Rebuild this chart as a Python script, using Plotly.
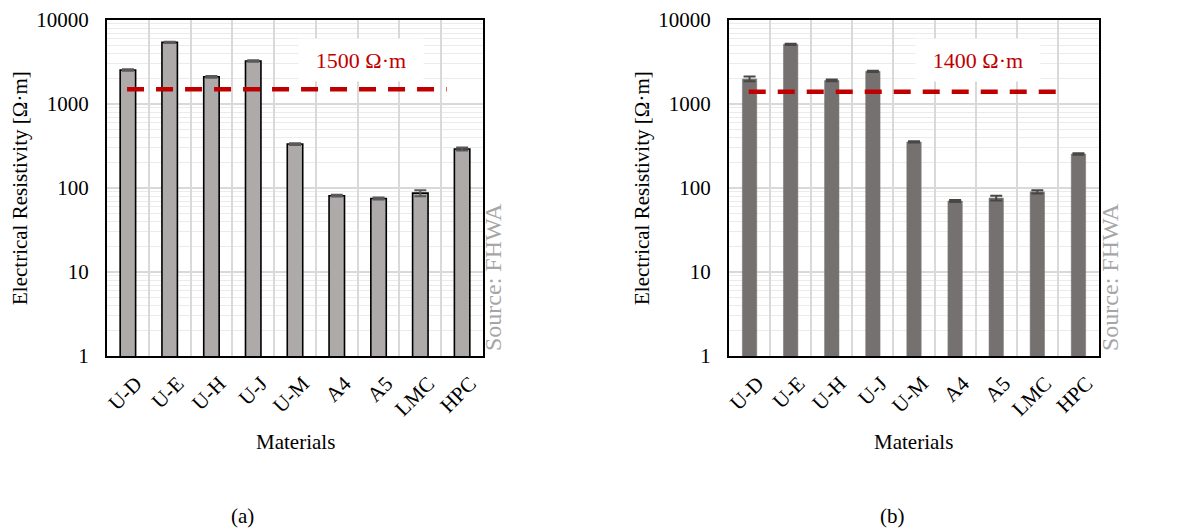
import plotly.graph_objects as go

W, H = 1184, 531

materials = ["U-D", "U-E", "U-H", "U-J", "U-M", "A4", "A5", "LMC", "HPC"]
res_a = [2540, 5420, 2110, 3250, 334, 81, 75, 87, 291]
err_a = [60, 90, 50, 60, 8, 2, 2, 7, 12]
res_b = [1990, 5130, 1910, 2450, 353, 70, 76, 90, 254]
err_b = [130, 90, 50, 40, 6, 2, 5, 4, 5]
threshold_a = 1500
threshold_b = 1400
label_a = "1500 Ω·m"
label_b = "1400 Ω·m"
y_title = "Electrical Resistivity [Ω·m]"
x_title = "Materials"
source = "Source: FHWA"
panel_labels = ["(a)", "(b)"]

FONT = "Liberation Serif"

def px(x):
    return x / W

def py(y):
    return 1 - y / H

fig = go.Figure()

# Panel (a)
fig.add_trace(go.Bar(
    x=materials, y=res_a, xaxis="x", yaxis="y",
    marker=dict(color="#AEAAAA", line=dict(color="#000000", width=1.6)),
    width=0.37,
    error_y=dict(type="data", array=err_a, color="#595959", thickness=2, width=6),
    showlegend=False,
))
# Panel (b)
fig.add_trace(go.Bar(
    x=materials, y=res_b, xaxis="x2", yaxis="y2",
    marker=dict(color="#767171", line=dict(color="#767171", width=0.5)),
    width=0.35,
    error_y=dict(type="data", array=err_b, color="#4a4646", thickness=2, width=6),
    showlegend=False,
))

ydom = [py(356), py(20)]
xaxis_common = dict(
    type="category", tickson="boundaries", showgrid=True, gridcolor="#D9D9D9", gridwidth=1.5,
    showline=True, linecolor="#000000", linewidth=2, mirror=True, ticks="",
    tickangle=-45, tickfont=dict(family=FONT, size=21, color="#000000"),
    ticklabelstandoff=5, ticklabelshift=8,
    range=[-0.5, 8.5], automargin=False,
)
yaxis_common = dict(
    type="log", range=[0, 4], tickmode="linear", tick0=0, dtick=1, tickformat="d",
    showgrid=True, gridcolor="#D9D9D9", gridwidth=1.5,
    minor=dict(dtick="D1", showgrid=True, gridcolor="#EBEBEB", gridwidth=1, ticks=""),
    showline=True, linecolor="#000000", linewidth=2, mirror=True, ticks="",
    tickfont=dict(family=FONT, size=21, color="#000000"), ticklabelstandoff=12,
    zeroline=False, automargin=False,
)

fig.update_layout(
    width=W, height=H,
    margin=dict(l=0, r=0, t=0, b=0, autoexpand=False),
    paper_bgcolor="#FFFFFF", plot_bgcolor="#FFFFFF",
    xaxis=dict(domain=[px(107), px(483)], anchor="y", **xaxis_common),
    yaxis=dict(domain=ydom, anchor="x", **yaxis_common),
    xaxis2=dict(domain=[px(729), px(1099)], anchor="y2", **xaxis_common),
    yaxis2=dict(domain=ydom, anchor="x2", **yaxis_common),
    font=dict(family=FONT, color="#000000"),
)

# threshold dashed lines
for xr, yr, thr in [("x", "y", threshold_a), ("x2", "y2", threshold_b)]:
    fig.add_shape(type="line", xref=xr, yref=yr, x0=-0.02, x1=7.63, y0=thr, y1=thr,
                  line=dict(color="#C00000", width=4.5, dash="17px,12px"))

annotations = []
def ann(x, y, text, **kw):
    d = dict(x=px(x), y=py(y), xref="paper", yref="paper", text=text, showarrow=False,
             xanchor="center", yanchor="middle")
    d.update(kw)
    annotations.append(d)

ann(361, 60, label_a, bgcolor="#FFFFFF", width=122, height=40,
    font=dict(family=FONT, size=22, color="#C00000"))
ann(978, 60, label_b, bgcolor="#FFFFFF", width=122, height=40,
    font=dict(family=FONT, size=22, color="#C00000"))
for xc in [20, 642]:
    ann(xc, 188, y_title, textangle=-90, font=dict(family=FONT, size=21, color="#000000"))
for xc in [295, 913]:
    ann(xc, 442, x_title, font=dict(family=FONT, size=21, color="#000000"))
for xc in [493, 1110]:
    ann(xc, 277, source, textangle=-90, font=dict(family=FONT, size=24, color="#A6A6A6"))
for xc, t in zip([242, 892], panel_labels):
    ann(xc, 516, t, font=dict(family=FONT, size=21, color="#000000"))

fig.update_layout(annotations=annotations)

fig.write_html("out.html", config={"displayModeBar": False},
               post_script="document.body.style.margin='0';")
